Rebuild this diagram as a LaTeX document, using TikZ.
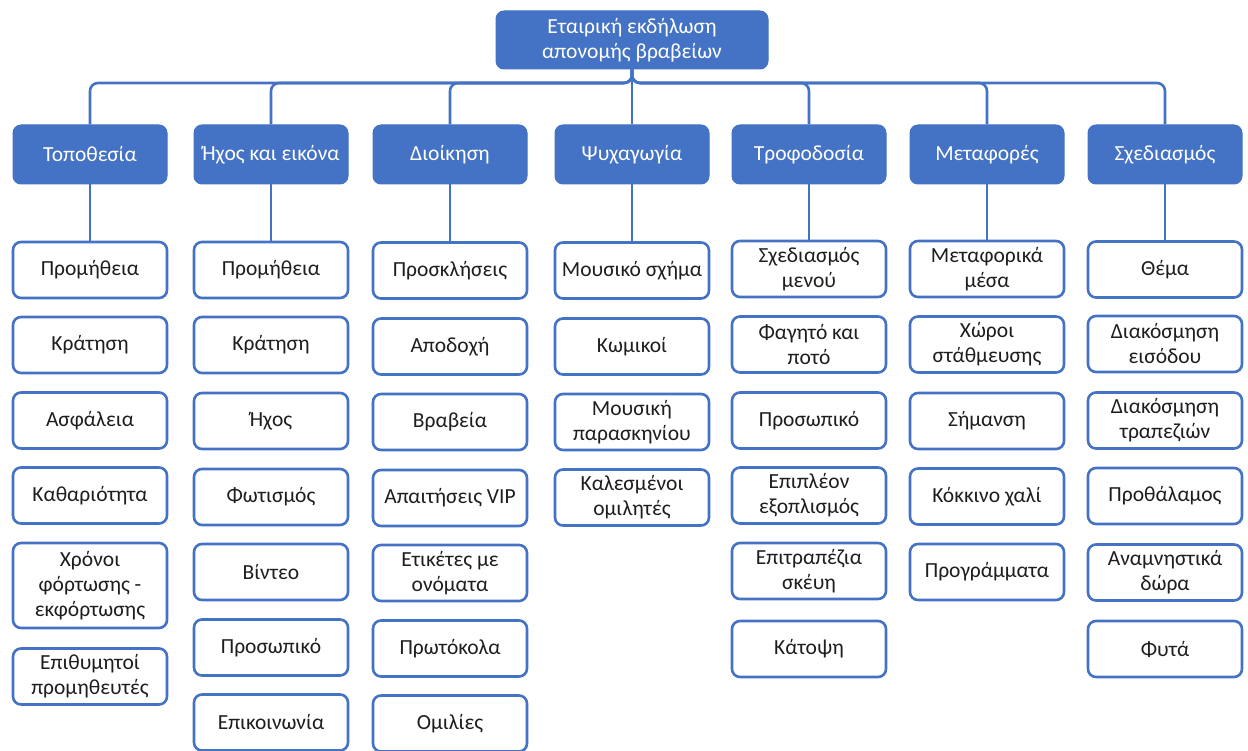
\documentclass[tikz,border=0pt]{standalone}
\usepackage{fontspec}
\setmainfont{Carlito}
\definecolor{office}{HTML}{4472C4}
\definecolor{ink}{HTML}{1E1E1E}
\tikzset{
  basebox/.style={rectangle, rounded corners=8pt, inner sep=0pt, align=center,
    minimum width=154pt, font=\fontsize{21.5}{25}\selectfont},
  headbox/.style={basebox, fill=office, draw=office, line width=1pt, text=white, minimum height=59pt},
  itembox/.style={basebox, fill=white, draw=office, line width=2.6pt, text=ink, minimum height=56pt},
  link/.style={draw=office, line width=2.6pt, rounded corners=8pt},
}
\begin{document}
\begin{tikzpicture}[x=1pt,y=-1pt]
\useasboundingbox (0,0) rectangle (1248,751);

% root
\node[headbox, minimum width=272pt, minimum height=58pt] (root) at (632,40)
  {Εταιρική εκδήλωση\\απονομής βραβείων};
\coordinate (bus) at (632,83);

% category row
\def\hy{154.5}
\node[headbox] (h1) at (90,\hy) {Τοποθεσία};
\node[headbox] (h2) at (271,\hy) {Ήχος και εικόνα};
\node[headbox] (h3) at (450,\hy) {Διοίκηση};
\node[headbox] (h4) at (632,\hy) {Ψυχαγωγία};
\node[headbox] (h5) at (809,\hy) {Τροφοδοσία};
\node[headbox] (h6) at (987,\hy) {Μεταφορές};
\node[headbox] (h7) at (1165,\hy) {Σχεδιασμός};

% column 1
\node[itembox] (a1) at (90,270) {Προμήθεια};
\node[itembox] (a2) at (90,345) {Κράτηση};
\node[itembox] (a3) at (90,420.5) {Ασφάλεια};
\node[itembox] (a4) at (90,495.5) {Καθαριότητα};
\node[itembox, minimum height=85pt] (a5) at (90,585.5) {Χρόνοι\\φόρτωσης -\\εκφόρτωσης};
\node[itembox] (a6) at (90,676.5) {Επιθυμητοί\\προμηθευτές};

% column 2
\node[itembox] (b1) at (271,270) {Προμήθεια};
\node[itembox] (b2) at (271,345) {Κράτηση};
\node[itembox] (b3) at (271,421) {Ήχος};
\node[itembox] (b4) at (271,497) {Φωτισμός};
\node[itembox] (b5) at (271,572) {Βίντεο};
\node[itembox] (b6) at (271,647.5) {Προσωπικό};
\node[itembox] (b7) at (271,722.5) {Επικοινωνία};

% column 3
\node[itembox] (c1) at (450,270.5) {Προσκλήσεις};
\node[itembox] (c2) at (450,346.5) {Αποδοχή};
\node[itembox] (c3) at (450,422) {Βραβεία};
\node[itembox] (c4) at (450,498) {Απαιτήσεις VIP};
\node[itembox] (c5) at (450,573) {Ετικέτες με\\ονόματα};
\node[itembox] (c6) at (450,648.5) {Πρωτόκολα};
\node[itembox] (c7) at (450,723.5) {Ομιλίες};

% column 4
\node[itembox] (d1) at (632,270.5) {Μουσικό σχήμα};
\node[itembox] (d2) at (632,346.5) {Κωμικοί};
\node[itembox] (d3) at (632,422) {Μουσική\\παρασκηνίου};
\node[itembox] (d4) at (632,497.5) {Καλεσμένοι\\ομιλητές};

% column 5
\node[itembox] (e1) at (809,269) {Σχεδιασμός\\μενού};
\node[itembox] (e2) at (809,344.5) {Φαγητό και\\ποτό};
\node[itembox] (e3) at (809,420.5) {Προσωπικό};
\node[itembox] (e4) at (809,495.5) {Επιπλέον\\εξοπλισμός};
\node[itembox] (e5) at (809,571) {Επιτραπέζια\\σκέυη};
\node[itembox] (e6) at (809,649) {Κάτοψη};

% column 6
\node[itembox] (f1) at (987,269) {Μεταφορικά\\μέσα};
\node[itembox] (f2) at (987,344.5) {Χώροι\\στάθμευσης};
\node[itembox] (f3) at (987,421) {Σήμανση};
\node[itembox] (f4) at (987,496.5) {Κόκκινο χαλί};
\node[itembox] (f5) at (987,572) {Προγράμματα};

% column 7
\node[itembox] (g1) at (1165,269.5) {Θέμα};
\node[itembox] (g2) at (1165,344) {Διακόσμηση\\εισόδου};
\node[itembox] (g3) at (1165,420.5) {Διακόσμηση\\τραπεζιών};
\node[itembox] (g4) at (1165,496) {Προθάλαμος};
\node[itembox] (g5) at (1165,572.5) {Αναμνηστικά\\δώρα};
\node[itembox] (g6) at (1165,649) {Φυτά};

% root to categories
\foreach \h in {h1,h2,h3,h5,h6,h7}
  \draw[link] (root.south) -- (bus) -| (\h.north);
\draw[link] (root.south) -- (h4.north);

% categories to their first item
\foreach \h/\c in {h1/a1,h2/b1,h3/c1,h4/d1,h5/e1,h6/f1,h7/g1}
  \draw[link] (\h.south) -- (\c.north);
\end{tikzpicture}
\end{document}
